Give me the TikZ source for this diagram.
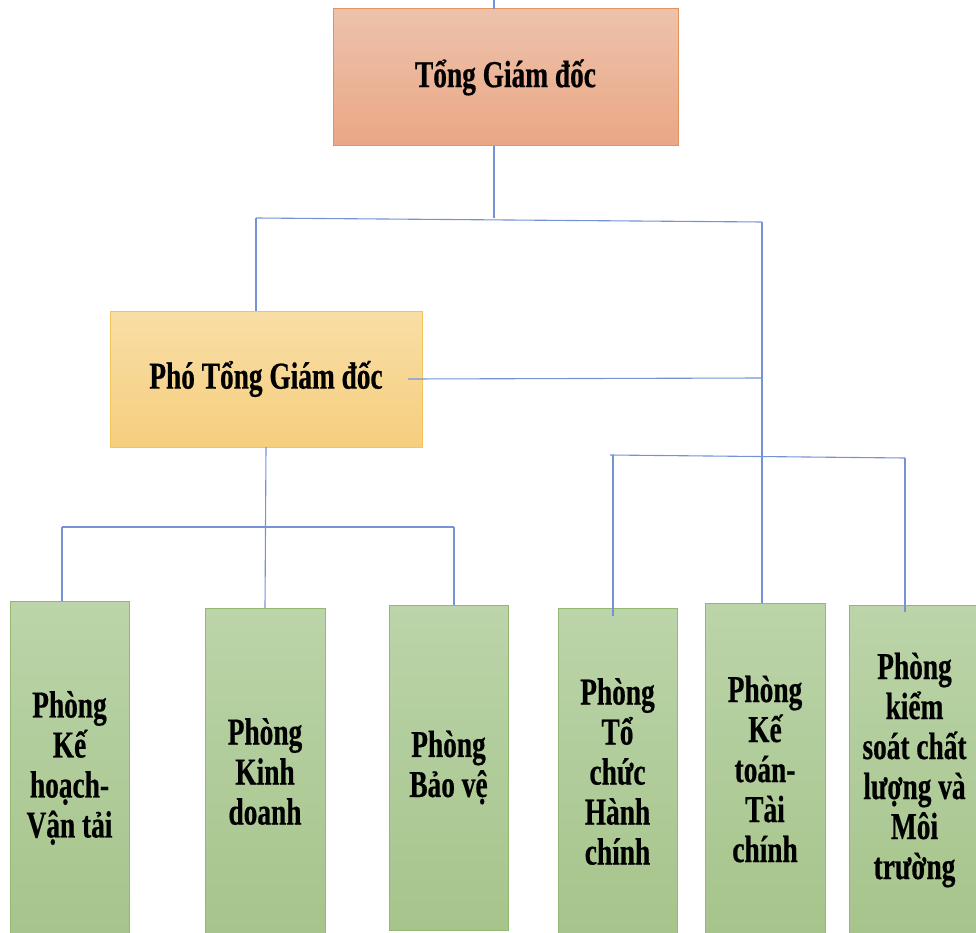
\documentclass[tikz,border=0pt]{standalone}
\usepackage{fontspec}
\newfontfamily\orgfont{Liberation Serif}[FakeStretch=0.72, FakeBold=0.5]
\definecolor{linkblue}{HTML}{7393D6}
\definecolor{gdtop}{HTML}{EDC2AB}
\definecolor{gdbot}{HTML}{EAA785}
\definecolor{gdline}{HTML}{E3935F}
\definecolor{photop}{HTML}{F8DEA6}
\definecolor{phobot}{HTML}{F6CE7E}
\definecolor{pholine}{HTML}{F1C45C}
\definecolor{phgtop}{HTML}{BBD4A9}
\definecolor{phgbot}{HTML}{A6C48B}
\definecolor{phgline}{HTML}{93B872}
\begin{document}
\begin{tikzpicture}[x=1pt, y=-1pt,
        box/.style={draw, line width=1pt, align=center, inner sep=0pt, outer sep=0pt,
            font=\orgfont\bfseries\fontsize{38}{40}\selectfont},
        bossbox/.style={box, draw=gdline, top color=gdtop, bottom color=gdbot},
        deputybox/.style={box, draw=pholine, top color=photop, bottom color=phobot},
        deptbox/.style={box, draw=phgline, top color=phgtop, bottom color=phgbot},
        link/.style={draw=linkblue, line width=1.1pt}
    ]
    \useasboundingbox (0,0) rectangle (976,933);

    % leadership
    \node[bossbox, minimum width=345, minimum height=137] (gd) at (505.5,77.5) {Tổng Giám đốc};
    \node[deputybox, minimum width=312, minimum height=136] (pho) at (266,379) {Phó Tổng Giám đốc};

    % departments
    \node[deptbox, minimum width=119, minimum height=334] (kh) at (69.5,768) {Phòng\\Kế\\hoạch-\\Vận tải};
    \node[deptbox, minimum width=120, minimum height=327] (kd) at (265,771.5) {Phòng\\Kinh\\doanh};
    \node[deptbox, minimum width=119, minimum height=325] (bv) at (448.5,767.5) {Phòng\\Bảo vệ};
    \node[deptbox, minimum width=119, minimum height=327] (tc) at (617.5,771.5) {Phòng\\Tổ\\chức\\Hành\\chính};
    \node[deptbox, minimum width=120, minimum height=332] (kt) at (765,769) {Phòng\\Kế\\toán-\\Tài\\chính};
    \node[deptbox, minimum width=131, minimum height=330] (ks) at (914.5,770) {Phòng\\kiểm\\soát chất\\lượng và\\Môi\\trường};

    % junctions
    \coordinate (top) at (494,0);
    \coordinate (j1) at (494,218);
    \coordinate (jL) at (256,218);
    \coordinate (jR) at (762,222);
    \coordinate (jP) at (762,378);
    \coordinate (j2) at (62,527);
    \coordinate (j3) at (454,527);
    \coordinate (j4) at (610,455);
    \coordinate (j5) at (905,458);

    \path[link] (top) -- (top |- gd.north);
    \path[link] (gd.south -| j1) -- (j1);
    \path[link] (jL) -- (jR);
    \path[link] (jL) -- (jL |- pho.north);
    \path[link] (jR) -- (jR |- kt.north);
    \path[link] ([xshift=-14pt]pho.east) -- (jP);
    \path[link] (pho.south) -- (kd.north);
    \path[link] (j2) -- (j3);
    \path[link] (j2) -- (j2 |- kh.north);
    \path[link] (j3) -- (j3 |- bv.north);
    \path[link] (j4) -- (j5);
    \path[link] ([xshift=3pt]j4) -- ([xshift=3pt,yshift=-8pt]j4 |- tc.north);
    \path[link] (j5) -- ([yshift=-7pt]j5 |- ks.north);
\end{tikzpicture}
\end{document}
